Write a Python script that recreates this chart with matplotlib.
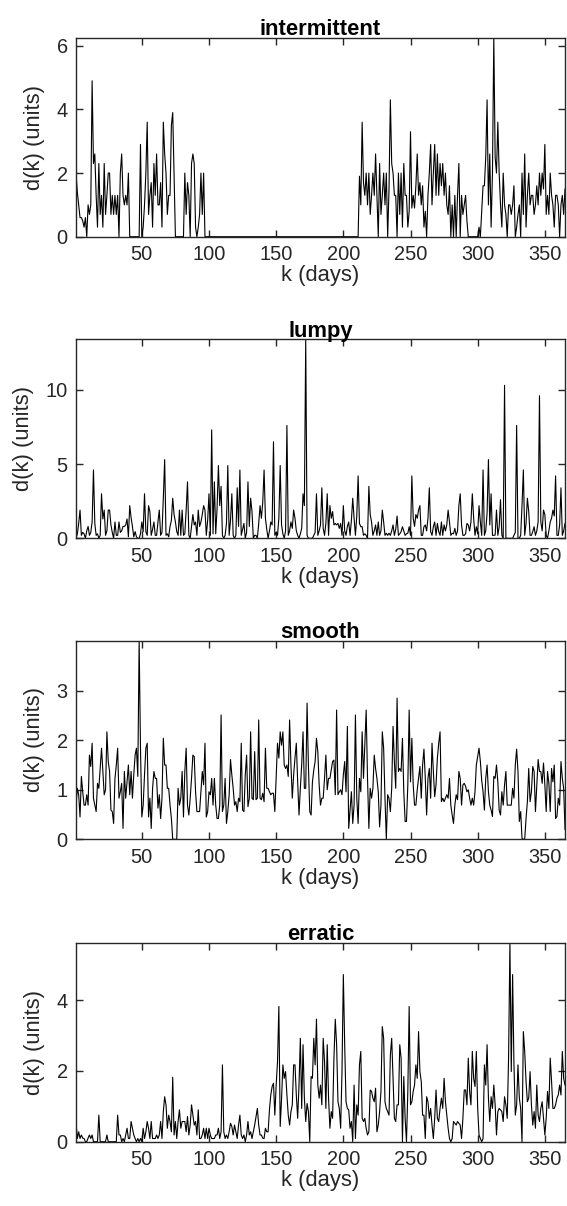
import numpy as np
import matplotlib
matplotlib.use('Agg')
import matplotlib.pyplot as plt

plt.rcParams['font.family'] = ['Liberation Sans', 'DejaVu Sans']

# daily demand, 365 values per series (rows of 10 days)
intermittent = [
    2.0, 1.4, 1.0, 0.6, 0.6, 0.5, 0.3, 0.6, 0.0, 1.0,
    0.7, 1.0, 4.9, 2.3, 2.6, 1.3, 0.3, 2.3, 0.7, 1.3,
    0.3, 2.3, 0.7, 1.3, 2.0, 2.0, 0.7, 1.3, 0.7, 1.3,
    0.7, 1.3, 0.0, 2.0, 2.6, 1.3, 1.0, 1.3, 1.0, 2.0,
    0.0, 0.0, 0.0, 0.0, 0.0, 0.0, 0.0, 0.0, 2.9, 0.0,
    0.3, 1.0, 2.0, 3.6, 0.7, 1.3, 1.7, 0.3, 2.3, 1.3,
    2.6, 1.0, 1.0, 1.7, 0.3, 3.6, 2.6, 2.0, 0.7, 1.3,
    1.3, 3.5, 3.9, 2.0, 0.0, 0.0, 0.0, 0.0, 0.0, 0.0,
    0.0, 2.0, 0.7, 1.7, 1.3, 0.0, 2.3, 2.6, 2.3, 0.3,
    0.0, 0.3, 0.7, 2.0, 0.7, 2.0, 0.0, 0.0, 0.0, 0.0,
] + [0.0] * 110 + [
    0.0, 1.9, 1.0, 3.6, 1.7, 1.3, 2.0, 1.0, 2.0, 0.7,
    1.3, 2.0, 1.3, 2.6, 1.3, 0.0, 2.3, 0.7, 1.3, 2.0,
    1.0, 2.0, 0.0, 1.5, 4.3, 2.3, 2.0, 1.3, 1.3, 0.0,
    2.0, 0.7, 2.0, 0.3, 2.3, 1.3, 1.3, 0.3, 0.8, 3.3,
    0.9, 1.3, 0.9, 1.6, 2.6, 1.3, 1.7, 1.0, 1.6, 0.3,
    0.8, 0.0, 1.3, 2.0, 2.9, 1.0, 2.0, 2.9, 1.3, 2.6,
    1.3, 2.3, 1.6, 2.3, 1.3, 2.0, 1.0, 0.7, 1.6, 0.0,
    1.0, 0.0, 1.3, 0.0, 1.3, 2.3, 0.0, 1.3, 0.7, 1.0,
    1.3, 0.5, 0.0, 0.0, 0.0, 0.0, 0.0, 0.0, 0.0, 0.0,
    0.3, 0.0, 0.8, 1.6, 1.6, 2.5, 4.3, 1.0, 2.6, 0.3,
    2.0, 6.26, 2.5, 2.0, 3.6, 2.0, 1.0, 0.3, 2.0, 1.0,
    0.7, 0.0, 1.0, 1.0, 0.7, 1.0, 1.6, 0.0, 0.3, 0.7,
    1.0, 0.0, 2.0, 0.7, 2.6, 0.3, 1.3, 2.0, 1.0, 1.3,
    1.3, 0.7, 1.0, 1.6, 1.0, 2.0, 1.3, 2.0, 1.5, 2.9,
    0.7, 1.3, 0.7, 2.0, 1.3, 1.0, 0.3, 1.3, 1.3, 1.0,
    0.0, 1.0, 1.3, 0.7, 1.5,
]

lumpy = [
    0.0, 0.3, 1.0, 1.9, 0.2, 0.4, 0.3, 0.0, 0.5, 0.8,
    0.2, 0.4, 1.1, 4.6, 1.0, 0.2, 0.3, 0.0, 0.2, 3.0,
    1.3, 1.9, 0.2, 0.5, 1.9, 1.9, 0.9, 0.4, 0.0, 1.1,
    0.2, 0.2, 1.1, 0.4, 0.5, 0.8, 0.8, 0.9, 1.3, 0.1,
    2.2, 1.4, 0.8, 0.1, 0.45, 0.1, 0.0, 0.0, 0.3, 1.1,
    0.45, 3.0, 0.45, 0.2, 2.2, 1.8, 0.2, 0.6, 1.1, 0.2,
    0.2, 1.1, 1.9, 0.2, 0.4, 2.7, 5.3, 0.2, 0.3, 0.1,
    0.8, 1.2, 2.7, 1.6, 1.1, 0.45, 0.2, 1.9, 0.2, 1.9,
    0.2, 0.3, 1.9, 3.8, 0.2, 0.0, 0.8, 1.6, 0.9, 1.1,
    0.2, 1.9, 0.8, 1.1, 1.6, 2.2, 1.9, 0.2, 1.2, 3.0,
    0.2, 7.3, 0.3, 3.8, 0.3, 2.0, 4.9, 2.2, 3.5, 0.2,
    0.0, 0.2, 1.0, 4.9, 0.2, 1.2, 3.0, 0.2, 0.0, 0.2,
    3.4, 0.8, 4.6, 0.2, 0.6, 1.0, 0.0, 0.4, 3.8, 0.8,
    2.7, 1.8, 0.0, 0.2, 0.2, 0.0, 1.0, 2.2, 1.35, 2.4,
    4.6, 1.35, 0.6, 0.0, 0.5, 1.1, 0.9, 6.5, 0.2, 0.4,
    0.2, 1.35, 4.9, 0.9, 0.3, 0.0, 0.5, 7.6, 0.2, 0.5,
    1.1, 0.67, 1.9, 1.35, 0.5, 0.2, 0.0, 0.3, 0.67, 3.0,
    2.2, 13.4, 0.2, 0.0, 0.0, 0.0, 0.0, 0.2, 0.4, 3.0,
    0.2, 0.5, 0.9, 3.4, 0.67, 0.2, 1.0, 3.0, 0.2, 2.2,
    1.35, 1.8, 0.9, 1.0, 0.9, 1.0, 0.67, 1.0, 0.2, 2.2,
    0.5, 0.2, 0.8, 1.1, 0.2, 1.2, 2.7, 1.35, 0.2, 1.5,
    4.2, 1.0, 0.78, 0.78, 0.2, 0.3, 0.2, 0.0, 3.5, 1.6,
    1.1, 0.2, 0.5, 0.9, 0.2, 1.1, 0.2, 0.5, 1.9, 1.1,
    0.2, 0.34, 0.2, 0.34, 0.2, 0.5, 0.9, 0.2, 0.6, 1.5,
    0.2, 0.3, 0.45, 0.78, 0.5, 0.2, 0.3, 0.34, 0.78, 0.2,
    4.2, 1.35, 0.8, 1.6, 1.35, 1.9, 2.2, 0.2, 0.2, 0.78,
    0.9, 0.5, 1.35, 3.4, 0.45, 0.2, 0.78, 1.1, 0.2, 1.0,
    0.45, 0.2, 1.1, 0.2, 0.9, 0.5, 0.9, 1.9, 1.1, 0.2,
    0.34, 0.3, 0.67, 0.2, 0.5, 2.2, 3.0, 0.9, 0.2, 0.2,
    0.3, 1.0, 0.9, 0.5, 1.1, 3.0, 1.35, 0.2, 0.78, 0.3,
    2.2, 1.1, 0.2, 4.6, 0.2, 0.5, 1.7, 5.3, 0.9, 3.0,
    0.2, 0.2, 0.22, 1.9, 0.2, 0.78, 2.6, 0.2, 0.0, 10.3,
    0.0, 0.0, 0.0, 0.0, 0.0, 0.0, 0.2, 0.4, 7.6, 0.0,
    0.0, 0.2, 2.2, 4.6, 0.2, 1.0, 2.7, 1.8, 0.2, 0.2,
    0.45, 0.78, 0.2, 0.5, 1.1, 9.6, 1.1, 0.5, 1.9, 1.6,
    0.2, 0.0, 0.5, 1.1, 1.35, 1.9, 1.5, 4.2, 0.2, 0.2,
    0.9, 3.4, 0.2, 0.5, 1.0,
]

smooth = [
    0.69, 1.03, 0.9, 0.45, 1.27, 0.96, 0.69, 0.69, 0.9, 0.69,
    1.7, 1.47, 1.94, 0.83, 0.69, 0.56, 1.13, 1.03, 1.43, 1.84,
    1.37, 0.9, 1.0, 2.17, 1.57, 1.37, 0.59, 0.56, 0.32, 1.23,
    1.5, 1.84, 0.83, 0.96, 1.13, 0.22, 1.37, 0.83, 1.16, 1.5,
    0.9, 1.37, 0.83, 1.3, 1.7, 1.84, 1.27, 4.01, 1.84, 0.45,
    0.69, 1.3, 1.84, 1.94, 0.45, 0.83, 0.22, 1.03, 1.37, 1.23,
    1.23, 0.63, 0.9, 0.42, 0.83, 2.04, 1.5, 1.5, 1.03, 1.03,
    0.69, 0.42, 0.0, 0.0, 0.0, 0.0, 1.03, 0.69, 0.83, 1.37,
    0.45, 1.37, 1.84, 0.69, 0.49, 0.83, 1.23, 1.7, 1.67, 0.96,
    0.56, 0.56, 0.56, 0.96, 1.37, 1.1, 1.94, 0.45, 0.56, 0.96,
    0.9, 1.23, 0.69, 1.23, 0.69, 0.42, 0.42, 0.69, 2.51, 0.56,
    0.69, 1.23, 0.32, 0.56, 0.9, 1.61, 1.3, 1.03, 0.69, 0.76,
    0.56, 0.83, 0.76, 1.94, 0.59, 0.56, 1.3, 1.7, 0.66, 0.83,
    2.17, 0.83, 0.8, 1.77, 0.8, 0.83, 2.41, 0.83, 0.8, 0.93,
    0.76, 1.84, 1.03, 1.03, 0.96, 0.9, 0.93, 0.93, 0.56, 1.27,
    1.94, 1.64, 2.17, 1.9, 2.17, 1.5, 1.43, 1.5, 1.27, 2.41,
    1.5, 0.83, 1.3, 1.64, 1.94, 1.16, 0.49, 1.03, 1.5, 2.17,
    1.03, 1.03, 2.75, 1.5, 0.56, 0.49, 1.16, 1.4, 1.57, 2.04,
    1.77, 1.1, 0.69, 0.83, 0.83, 1.23, 1.7, 1.0, 1.23, 1.23,
    1.4, 1.57, 1.6, 0.9, 2.61, 0.9, 0.96, 1.0, 0.9, 1.3,
    1.57, 0.96, 2.28, 0.22, 0.59, 0.96, 0.32, 0.69, 2.51, 0.83,
    0.32, 1.23, 0.96, 2.17, 1.23, 1.9, 2.61, 1.23, 0.22, 1.03,
    0.83, 1.03, 1.7, 1.43, 1.23, 0.96, 0.25, 0.69, 2.17, 1.84,
    0.83, 0.0, 0.9, 0.83, 0.56, 1.03, 2.28, 1.57, 1.03, 2.85,
    1.37, 1.43, 1.37, 2.04, 0.96, 0.36, 0.36, 1.1, 2.61, 1.16,
    2.04, 1.1, 0.69, 0.69, 1.0, 1.23, 1.47, 0.83, 1.5, 1.82,
    1.23, 0.49, 1.23, 1.43, 0.83, 1.94, 1.37, 0.86, 1.1, 1.64,
    1.94, 2.17, 0.76, 0.83, 0.76, 0.83, 0.9, 0.83, 1.23, 0.69,
    0.49, 0.32, 0.69, 0.9, 0.8, 1.37, 1.23, 0.69, 1.1, 1.13,
    1.07, 0.96, 1.0, 0.83, 0.69, 0.83, 0.69, 0.96, 1.5, 1.67,
    1.84, 1.57, 1.19, 0.96, 0.59, 1.23, 1.5, 0.96, 0.69, 0.59,
    0.46, 1.27, 1.23, 1.5, 1.16, 0.59, 0.49, 0.96, 0.69, 1.1,
    1.37, 0.69, 0.69, 0.69, 0.69, 1.03, 0.83, 1.5, 1.82, 1.37,
    0.36, 0.56, 0.02, 0.0, 0.0, 0.42, 0.76, 1.43, 0.76, 0.96,
    1.47, 1.37, 0.56, 1.1, 1.61, 1.37, 1.37, 1.13, 1.54, 1.1,
    0.56, 1.37, 1.13, 0.56, 1.43, 1.16, 1.5, 0.42, 0.46, 0.83,
    0.69, 1.57, 1.23, 1.03, 0.2,
]

erratic = [
    0.57, 0.09, 0.28, 0.09, 0.19, 0.1, 0.09, 0.0, 0.0, 0.1,
    0.19, 0.09, 0.19, 0.0, 0.0, 0.0, 0.0, 0.75, 0.0, 0.0,
    0.0, 0.0, 0.0, 0.19, 0.0, 0.0, 0.0, 0.0, 0.0, 0.0,
    0.0, 0.75, 0.19, 0.19, 0.0, 0.09, 0.0, 0.19, 0.38, 0.09,
    0.09, 0.57, 0.38, 0.19, 0.09, 0.0, 0.09, 0.0, 0.09, 0.0,
    0.38, 0.09, 0.28, 0.57, 0.38, 0.09, 0.57, 0.09, 0.09, 0.09,
    0.19, 0.09, 0.19, 0.57, 0.09, 0.85, 1.27, 1.04, 0.38, 0.75,
    0.57, 0.28, 1.82, 0.19, 0.57, 0.09, 0.57, 0.9, 0.38, 0.57,
    0.57, 0.57, 0.28, 0.71, 0.19, 0.47, 1.04, 0.75, 0.47, 0.57,
    0.19, 0.9, 0.09, 0.09, 0.19, 0.38, 0.09, 0.38, 0.09, 0.38,
    0.19, 0.09, 0.09, 0.09, 0.19, 0.19, 0.38, 0.09, 0.28, 2.17,
    0.28, 0.09, 0.19, 0.09, 0.28, 0.52, 0.43, 0.19, 0.47, 0.28,
    0.09, 0.47, 0.75, 0.19, 0.09, 0.19, 0.0, 0.19, 0.57, 0.19,
    0.28, 0.09, 0.28, 0.47, 0.7, 0.94, 0.47, 0.19, 0.19, 0.1,
    0.09, 0.38, 0.28, 0.28, 0.9, 1.32, 1.56, 1.65, 0.75, 1.6,
    2.26, 3.82, 0.43, 1.2, 2.17, 1.79, 1.98, 1.32, 0.75, 0.47,
    0.85, 1.04, 2.17, 2.17, 1.32, 0.66, 1.6, 2.92, 0.94, 2.74,
    1.23, 0.57, 1.08, 0.85, 0.0, 1.84, 1.79, 2.92, 2.17, 3.46,
    1.6, 1.23, 1.6, 1.04, 2.92, 2.26, 0.94, 2.74, 1.23, 0.38,
    0.85, 0.66, 2.36, 3.46, 2.74, 1.13, 0.94, 0.38, 1.98, 4.72,
    2.74, 1.13, 0.94, 0.9, 0.38, 0.57, 0.0, 1.6, 0.09, 1.04,
    0.75, 2.17, 2.55, 0.66, 0.57, 0.66, 0.38, 0.19, 0.28, 1.46,
    1.42, 1.23, 1.13, 1.51, 0.28, 0.47, 0.85, 1.42, 3.25, 2.92,
    1.13, 0.94, 0.85, 0.75, 2.45, 2.92, 1.79, 0.66, 0.57, 1.04,
    1.04, 2.74, 2.36, 0.0, 1.84, 0.66, 0.0, 1.42, 3.82, 1.04,
    1.13, 1.42, 1.6, 2.17, 1.79, 3.11, 1.98, 1.7, 0.75, 0.75,
    0.09, 1.27, 1.13, 0.66, 0.94, 0.47, 0.09, 0.66, 1.46, 0.66,
    0.57, 0.94, 1.23, 0.94, 1.79, 1.13, 0.75, 0.38, 0.09, 0.0,
    0.09, 0.57, 0.52, 0.47, 0.57, 0.52, 0.47, 0.09, 0.66, 1.46,
    1.46, 1.04, 2.36, 1.42, 1.04, 2.55, 1.79, 1.56, 2.55, 0.94,
    0.19, 0.09, 0.0, 0.09, 2.17, 1.6, 2.74, 1.23, 0.57, 1.27,
    0.94, 1.6, 1.04, 0.19, 0.85, 0.94, 0.9, 0.85, 0.57, 1.27,
    1.04, 0.66, 2.36, 5.62, 1.98, 4.72, 2.17, 0.75, 1.04, 2.17,
    1.23, 0.94, 0.0, 3.11, 2.55, 1.7, 1.13, 1.23, 1.98, 1.04,
    0.47, 0.85, 0.38, 1.6, 0.75, 0.57, 0.94, 1.13, 0.66, 0.19,
    0.66, 1.42, 0.94, 2.36, 1.7, 0.94, 0.94, 1.04, 1.23, 1.32,
    1.6, 1.32, 2.55, 1.79, 1.6,
]

titles = ['intermittent', 'lumpy', 'smooth', 'erratic']
series = [intermittent, lumpy, smooth, erratic]
yticks = [[0, 2, 4, 6], [0, 5, 10], [0, 1, 2, 3], [0, 2, 4]]
xticks = [50, 100, 150, 200, 250, 300, 350]

W, H = 567, 1206
fig = plt.figure(figsize=(W / 100, H / 100), dpi=100)

# axes boxes in pixels: (left, top, right, bottom)
boxes = [(76, 37.5, 565, 236.7), (76, 339.3, 565, 538.3),
         (76, 640.7, 565, 839.3), (76, 942.7, 565, 1141.7)]

grey = '#262626'
for box, name, d, yt in zip(boxes, titles, series, yticks):
    l, t, r, b = box
    ax = fig.add_axes([l / W, 1 - b / H, (r - l) / W, (b - t) / H])
    days = np.arange(1, len(d) + 1)
    ax.plot(days, d, color='black', lw=0.8)
    ax.set_xlim(1, 365)
    ax.set_ylim(0, max(d))
    ax.set_xticks(xticks)
    ax.set_yticks(yt)
    ax.tick_params(direction='in', top=True, right=True, length=5, width=1.0,
                   colors=grey, labelsize=14.4, pad=6)
    for s in ax.spines.values():
        s.set_linewidth(1.0)
        s.set_color(grey)
    ax.set_xlabel('k (days)', fontsize=15.8, color=grey, labelpad=1)
    ax.set_ylabel('d(k) (units)', fontsize=15.8, color=grey, labelpad=8)
    ax.set_title(name, fontsize=15.8, fontweight='bold', color='black', pad=2)

fig.savefig('out.png', dpi=100)
